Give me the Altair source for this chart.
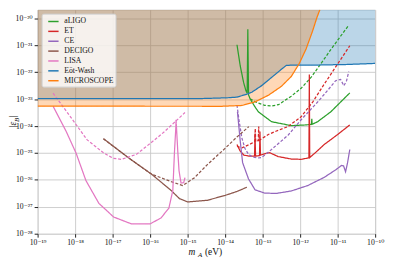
import altair as alt
import numpy as np
import pandas as pd

# ---- values (log10 of m_A [eV] and log10 of |eps_B|) ----
lisa_m = [-18.587, -18.237, -17.974, -17.711, -17.368, -16.974, -16.5, -16.0, -15.711, -15.5,
          -15.395, -15.35, -15.316, -15.308, -15.263, -15.229, -15.176, -15.105, -15.071]
lisa_e = [-23.262, -24.201, -25.005, -26.027, -26.868, -27.379, -27.635, -27.635, -27.416, -27.05,
          -26.393, -24.932, -24.091, -23.763, -24.932, -25.662, -26.119, -26.1, -25.918]
lisa_d_m = [-18.587, -18.124, -17.684, -17.245, -16.982, -16.763, -16.368, -15.929, -15.613, -15.071]
lisa_d_e = [-22.776, -23.653, -24.504, -24.994, -25.198, -25.235, -25.052, -24.566, -24.201, -23.496]

decigo_m = [-17.245, -16.579, -15.966, -15.439, -15.218, -15.0, -14.474, -14.0, -13.684, -13.421]
decigo_e = [-24.468, -25.176, -25.783, -26.393, -26.696, -26.82, -26.758, -26.575, -26.43, -26.272]
decigo_d_m = [-17.245, -16.579, -15.966, -15.439, -15.132, -14.816, -14.474, -14.053, -13.684, -13.368]
decigo_d_e = [-24.468, -25.176, -25.783, -26.064, -26.21, -25.918, -25.43, -24.895, -24.402, -24.018]

aligo_m = [-13.684, -13.597, -13.508, -13.447, -13.413, -13.395, -13.376, -13.334, -13.203, -13.113,
           -12.763, -12.237, -11.842, -11.697, -11.689, -11.681, -11.534, -11.184, -10.921, -10.676]
aligo_e = [-20.975, -21.764, -22.374, -22.678, -22.776, -20.402, -22.84, -22.984, -23.288, -23.47,
           -23.836, -23.982, -23.956, -23.934, -23.726, -23.934, -23.836, -23.47, -23.105, -22.765]
aligo_d_m = [-13.334, -13.158, -12.947, -12.763, -12.579, -12.237, -11.974, -11.711, -11.447, -11.184,
             -10.921, -10.703]
aligo_d_e = [-22.984, -23.123, -23.226, -23.251, -23.204, -22.886, -22.594, -22.192, -21.68, -21.158,
             -20.658, -20.245]

et_m = [-13.684, -13.597, -13.5, -13.368, -13.216, -13.203, -13.189, -13.084, -13.071, -13.058,
        -12.974, -12.816, -12.587, -12.237, -11.974, -11.766, -11.755, -11.745, -11.579, -11.361,
        -11.008, -10.676]
et_e = [-24.687, -24.932, -25.078, -25.114, -25.114, -24.274, -25.114, -25.096, -24.201, -25.078,
        -25.041, -24.986, -25.132, -25.224, -25.235, -25.18, -22.082, -25.169, -24.968, -24.687,
        -24.321, -23.956]
et_d_m = [-13.684, -13.553, -13.368, -13.211, -13.197, -13.184, -13.118, -13.105, -13.092, -12.85,
          -12.632, -12.324, -11.974, -11.666, -11.361, -11.008, -10.676]
et_d_e = [-24.749, -24.811, -24.694, -24.584, -24.091, -24.577, -24.537, -24.018, -24.53, -24.311,
          -24.183, -24.018, -23.653, -23.105, -22.447, -21.706, -21.012]

ce_m = [-13.671, -13.597, -13.534, -13.376, -13.203, -12.947, -12.632, -12.237, -11.797, -11.361,
        -11.053, -10.895, -10.842, -10.789, -10.737, -10.676]
ce_e = [-23.47, -24.566, -25.359, -25.965, -26.367, -26.491, -26.502, -26.411, -26.21, -25.907,
        -25.626, -25.461, -25.479, -25.699, -25.37, -24.869]
ce_d_m = [-13.684, -13.632, -13.553, -13.474, -13.376, -13.263, -13.132, -13.026, -12.763, -12.316,
          -11.974, -11.534, -11.271, -11.053, -10.921, -10.834, -10.763, -10.703]
ce_d_e = [-23.215, -23.763, -24.446, -24.822, -25.052, -25.151, -25.187, -25.169, -24.869, -24.329,
          -23.763, -23.105, -22.678, -22.312, -22.265, -22.502, -22.312, -21.973]

eotwash_m = [-19.0, -14.737, -13.947, -13.684, -13.421, -13.289, -13.026, -12.763, -12.5, -12.368,
             -12.237, -11.579, -10.789, -10.0]
eotwash_e = [-22.977, -22.98, -22.948, -22.922, -22.813, -22.74, -22.495, -22.192, -21.889, -21.742,
             -21.735, -21.73, -21.71, -21.669]

micro_m = [-19.0, -14.079, -13.553, -13.211, -12.842, -12.5, -12.237, -12.026, -11.842, -11.671,
           -11.553, -11.474]
micro_e = [-23.26, -23.262, -23.233, -23.105, -22.849, -22.521, -22.155, -21.68, -21.132, -20.475,
           -19.963, -19.671]

names = ["aLIGO", "ET", "CE", "DECIGO", "LISA", "Eöt-Wash", "MICROSCOPE"]
colors = ["#2ca02c", "#d62728", "#9467bd", "#8c564b", "#e377c2", "#1f77b4", "#ff7f0e"]

x_ticks = [1e-19, 1e-18, 1e-17, 1e-16, 1e-15, 1e-14, 1e-13, 1e-12, 1e-11, 1e-10]
x_labels = ["10⁻¹⁹", "10⁻¹⁸", "10⁻¹⁷", "10⁻¹⁶", "10⁻¹⁵", "10⁻¹⁴", "10⁻¹³", "10⁻¹²", "10⁻¹¹", "10⁻¹⁰"]
y_ticks = [1e-28, 1e-27, 1e-26, 1e-25, 1e-24, 1e-23, 1e-22, 1e-21, 1e-20]
y_labels = ["10⁻²⁸", "10⁻²⁷", "10⁻²⁶", "10⁻²⁵", "10⁻²⁴", "10⁻²³", "10⁻²²", "10⁻²¹", "10⁻²⁰"]

x_title_parts = ["m", "A", "(eV)"]
y_title_parts = ["|ε", "B", "|"]

X_DOM = [1e-19, 1e-10]
Y_TOP = 10 ** -19.67
Y_DOM = [1e-28, Y_TOP]

SERIF = "Liberation Serif, DejaVu Serif, serif"
W, H = 342, 227


def curve(det, style, m, e):
    return pd.DataFrame({
        "det": det, "curve": det + "_" + style, "style": style,
        "m": 10.0 ** np.array(m), "eps": 10.0 ** np.array(e), "idx": np.arange(len(m)),
    })


lines_df = pd.concat([
    curve("aLIGO", "solid", aligo_m, aligo_e),
    curve("aLIGO", "dashed", aligo_d_m, aligo_d_e),
    curve("ET", "solid", et_m, et_e),
    curve("ET", "dashed", et_d_m, et_d_e),
    curve("CE", "solid", ce_m, ce_e),
    curve("CE", "dashed", ce_d_m, ce_d_e),
    curve("DECIGO", "solid", decigo_m, decigo_e),
    curve("DECIGO", "dashed", decigo_d_m, decigo_d_e),
    curve("LISA", "solid", lisa_m, lisa_e),
    curve("LISA", "dashed", lisa_d_m, lisa_d_e),
    curve("Eöt-Wash", "solid", eotwash_m, eotwash_e),
    curve("MICROSCOPE", "solid", micro_m, micro_e),
], ignore_index=True)

ew_df = curve("Eöt-Wash", "solid", eotwash_m, eotwash_e).assign(top=Y_TOP)
mi_df = curve("MICROSCOPE", "solid", micro_m, micro_e).assign(top=Y_TOP)

x_expr = "[" + ",".join("'%s'" % s for s in x_labels) + "][round(log(datum.value)/LN10)+19]"
y_expr = "[" + ",".join("'%s'" % s for s in y_labels) + "][round(log(datum.value)/LN10)+28]"

xscale = alt.Scale(type="log", domain=X_DOM, nice=False)
yscale = alt.Scale(type="log", domain=Y_DOM, nice=False)

xaxis = alt.Axis(values=x_ticks, labelExpr=x_expr, title=None, grid=True, domain=False,
                 tickSize=3.5, tickColor="#222", labelFont=SERIF, labelFontSize=7.8,
                 labelColor="#111", labelPadding=1.5, labelFlush=False, labelOverlap=False,
                 gridColor="#c8c8c8", gridWidth=0.9)
yaxis = alt.Axis(values=y_ticks, labelExpr=y_expr, title=None, grid=True, domain=False,
                 tickSize=3.5, tickColor="#222", labelFont=SERIF, labelFontSize=7.8,
                 labelColor="#111", labelPadding=2, labelFlush=False, labelOverlap=False,
                 gridColor="#c8c8c8", gridWidth=0.9)

area_ew = alt.Chart(ew_df).mark_area(color="#1f77b4", opacity=0.3, clip=True).encode(
    x=alt.X("m:Q", scale=xscale, axis=xaxis),
    y=alt.Y("eps:Q", scale=yscale, axis=yaxis),
    y2="top:Q",
)
area_mi = alt.Chart(mi_df).mark_area(color="#ff7f0e", opacity=0.3, clip=True).encode(
    x=alt.X("m:Q", scale=xscale),
    y=alt.Y("eps:Q", scale=yscale),
    y2="top:Q",
)

lines = alt.Chart(lines_df).mark_line(strokeWidth=1.25, clip=True).encode(
    x=alt.X("m:Q", scale=xscale),
    y=alt.Y("eps:Q", scale=yscale),
    color=alt.Color("det:N", scale=alt.Scale(domain=names, range=colors),
                    legend=alt.Legend(title=None, orient="none", legendX=4, legendY=4,
                                      symbolType="stroke", symbolSize=110, symbolStrokeWidth=1.5,
                                      symbolOffset=4, labelFont=SERIF, labelFontSize=7.8,
                                      labelColor="#111", labelOffset=5, rowPadding=0,
                                      padding=2, fillColor="rgba(255,255,255,0.8)",
                                      strokeColor="#cccccc", cornerRadius=2)),
    strokeDash=alt.StrokeDash("style:N", scale=alt.Scale(domain=["solid", "dashed"],
                                                         range=[[1, 0], [3, 1.8]]), legend=None),
    detail="curve:N",
    order="idx:Q",
)

one = pd.DataFrame({"k": [0]})
t_m = alt.Chart(one).mark_text(text=x_title_parts[0], font=SERIF, fontSize=9.5, fontStyle="italic",
                               align="left", baseline="alphabetic", color="#111").encode(
    x=alt.value(153.0), y=alt.value(H + 21.8))
t_a = alt.Chart(one).mark_text(text=x_title_parts[1], font=SERIF, fontSize=7, fontStyle="italic",
                               align="left", baseline="alphabetic", color="#111").encode(
    x=alt.value(162.6), y=alt.value(H + 24.0))
t_ev = alt.Chart(one).mark_text(text=x_title_parts[2], font=SERIF, fontSize=9.5,
                                align="left", baseline="alphabetic", color="#111").encode(
    x=alt.value(169.5), y=alt.value(H + 21.8))

y_c = H / 2
t_e = alt.Chart(one).mark_text(text=y_title_parts[0], font=SERIF, fontSize=9.5, fontStyle="italic",
                               align="left", baseline="alphabetic", angle=270, color="#111").encode(
    x=alt.value(-21.5), y=alt.value(y_c + 6.5))
t_b = alt.Chart(one).mark_text(text=y_title_parts[1], font=SERIF, fontSize=7, fontStyle="italic",
                               align="left", baseline="alphabetic", angle=270, color="#111").encode(
    x=alt.value(-19.0), y=alt.value(y_c + 0.3))
t_bar = alt.Chart(one).mark_text(text=y_title_parts[2], font=SERIF, fontSize=9.5,
                                 align="left", baseline="alphabetic", angle=270, color="#111").encode(
    x=alt.value(-21.5), y=alt.value(y_c - 4.6))

chart = alt.layer(area_ew, area_mi, lines, t_m, t_a, t_ev, t_e, t_b, t_bar).properties(
    width=W, height=H,
    autosize=alt.AutoSizeParams(type="none"),
    padding={"left": 30, "top": 0, "right": 12, "bottom": 27},
).configure_view(stroke="#222", strokeWidth=1).configure(background="white")

chart.save("out.html", embed_options={"renderer": "svg", "actions": False})
